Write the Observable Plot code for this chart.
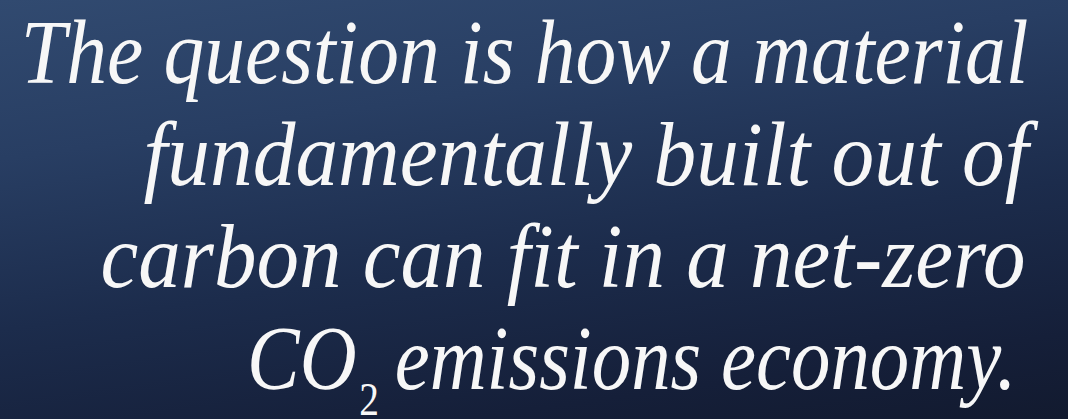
<!DOCTYPE html>
<html><head><meta charset="utf-8">
<script src="https://cdn.jsdelivr.net/npm/d3@7"></script>
<script src="https://cdn.jsdelivr.net/npm/@observablehq/plot@0.6"></script>
<style>
html,body{margin:0;padding:0;background:#1b2a47;overflow:hidden}
</style>
</head><body><div id="chart"></div>
<script>
const lines = [
  "The question is how a material",
  "fundamentally built out of",
  "carbon can fit in a net-zero",
  "CO2 emissions economy."
];
const lineIndex = [0, 1, 2, 3];
const data = lineIndex.map(i => ({line: i, text: lines[i]}));

const serif = "'Liberation Serif', 'DejaVu Serif', serif";

const chart = Plot.plot({
  width: 1068,
  height: 419,
  marginTop: 82,
  marginBottom: 31,
  marginLeft: 0,
  marginRight: 40,
  x: {axis: null},
  y: {type: "point", domain: lineIndex, padding: 0, axis: null},
  style: {
    background: "linear-gradient(172deg, #314a70 0%, #283e63 28%, #1c2c4c 58%, #151f39 85%, #121a2f 100%)",
    color: "#f7f7f7",
    fontFamily: serif
  },
  marks: [
    Plot.text(data, {
      y: "line",
      text: "text",
      frameAnchor: "right",
      textAnchor: "end",
      lineAnchor: "bottom",
      fontSize: 92,
      fontFamily: serif,
      fontStyle: "italic",
      fill: "#f7f7f7"
    })
  ]
});
document.getElementById("chart").appendChild(chart);

// Presentation tweaks: narrow each line horizontally (around its right anchor)
// to the reference's line widths, nudge right edges, and set the subscript.
const fitWidths = [1008, 885, 925, 767];
const rightNudge = [0, 0, -3, -12];
d3.select(chart).selectAll("text").each(function() {
  const t = d3.select(this);
  const s = this.textContent;
  const i = lines.indexOf(s);
  if (i < 0) return;
  if (s.startsWith("CO2")) {
    t.text(null);
    t.append("tspan").text("CO");
    t.append("tspan")
      .attr("font-size", 46)
      .attr("font-family", serif)
      .attr("font-style", "normal")
      .attr("dx", 3)
      .attr("dy", 26)
      .text("2");
    t.append("tspan").attr("dy", -26).text("\u2009emissions economy.");
  }
  const w = this.getComputedTextLength();
  const sx = fitWidths[i] / w;
  const tr = t.attr("transform") || "";
  t.attr("transform", tr + ` translate(${rightNudge[i]},0) scale(${sx.toFixed(4)},1)`);
});
</script>
</body></html>
